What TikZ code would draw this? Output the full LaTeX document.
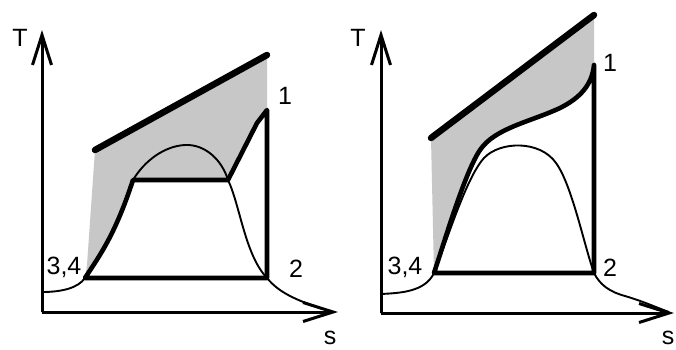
\documentclass[tikz,border=0pt]{standalone}
\usepackage{fontspec}
\setmainfont{Liberation Sans}
\usetikzlibrary{arrows.meta}
\begin{document}
\begin{tikzpicture}[x=1pt,y=-1pt,
  axis/.style={line width=3pt,-{Straight Barb[length=30pt,width=19pt,line width=3pt]}},
  heavy/.style={line width=6.5pt,line cap=round},
  cyc/.style={line width=4.6pt,line join=round},
  thin/.style={line width=1.9pt,line join=round},
  shade/.style={fill=black!22,draw=none},
  lbl/.style={font=\fontsize{25}{28}\selectfont,inner sep=0pt}]
\useasboundingbox (0,0) rectangle (676,350);
\fill[white] (0,0) rectangle (676,350);
% ---------------- left panel ----------------
\coordinate (LO) at (42,312);
\coordinate (LY) at (42,30);
\coordinate (LX) at (338,312);
\coordinate (La) at (85,278);   % 3,4
\coordinate (Lb) at (133,180);
\coordinate (Lc) at (228,180);
\coordinate (Ld) at (267,110);  % 1
\coordinate (Le) at (267,278);  % 2
\coordinate (Lt1) at (95,150);
\coordinate (Lt2) at (267,55);
\fill[shade] (Lt1) -- (Lt2) -- (Ld) -- (257,123) -- (Lc) -- (Lb)
  .. controls (122,195) and (115,235) .. (100,255) -- (La) -- (87,265) -- cycle;
\draw[thin] (LO) -- (42,292) .. controls (62,292) and (78,288) .. (La)
  .. controls (100,255) and (115,235) .. (Lb)
  .. controls (145,160) and (165,146) .. (185,145)
  .. controls (205,144) and (222,160) .. (Lc)
  .. controls (240,205) and (245,255) .. (Le)
  .. controls (280,294) and (300,302) .. (333,312);
\draw[cyc] (La) .. controls (100,255) and (115,235) .. (Lb) -- (Lc) -- (257,123) -- (Ld) -- (Le) -- cycle;
\draw[heavy] (Lt1) -- (Lt2);
\draw[axis] (LO) -- (LY);
\draw[axis] (LO) -- (LX);
\node[lbl] (LT) at (20,38) {T};
\node[lbl] (LS) at (330,338) {s};
\node[lbl] (L1) at (285,96) {1};
\node[lbl] (L2) at (296,269) {2};
\node[lbl] (L34) at (64,267) {3,4};
% ---------------- right panel ----------------
\coordinate (RO) at (381,313);
\coordinate (RY) at (381,30);
\coordinate (RX) at (674,313);
\coordinate (Ra) at (434,273);  % 3,4
\coordinate (Rd) at (594,65);   % 1
\coordinate (Re) at (594,273);  % 2
\coordinate (Rt1) at (431,138);
\coordinate (Rt2) at (594,15);
\fill[shade] (Rt1) -- (Rt2) -- (Rd)
  .. controls (592,85) and (580,98) .. (560,108)
  .. controls (530,122) and (495,128) .. (480,150)
  .. controls (465,172) and (445,240) .. (Ra) -- cycle;
\draw[thin] (RO) -- (381,294) .. controls (400,293) and (425,292) .. (Ra)
  .. controls (448,238) and (466,178) .. (484,158)
  .. controls (500,141) and (540,140) .. (556,163)
  .. controls (572,185) and (584,245) .. (Re)
  .. controls (600,285) and (610,292) .. (625,296)
  .. controls (645,302) and (655,307) .. (669,312);
\draw[cyc] (Ra) .. controls (445,240) and (465,172) .. (480,150)
  .. controls (495,128) and (530,122) .. (560,108)
  .. controls (580,98) and (592,85) .. (Rd) -- (Re) -- cycle;
\draw[heavy] (Rt1) -- (Rt2);
\draw[axis] (RO) -- (RY);
\draw[axis] (RO) -- (RX);
\node[lbl] (RT) at (358,38) {T};
\node[lbl] (RS) at (668,338) {s};
\node[lbl] (R1) at (610,63) {1};
\node[lbl] (R2) at (610,268) {2};
\node[lbl] (R34) at (405,267) {3,4};
\end{tikzpicture}
\end{document}
